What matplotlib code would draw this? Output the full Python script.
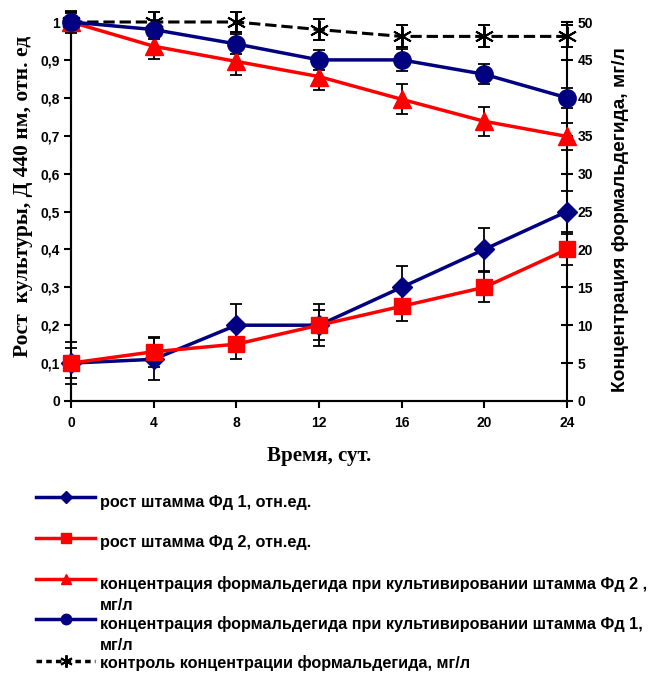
import matplotlib
matplotlib.use("Agg")
import matplotlib.pyplot as plt
from matplotlib.lines import Line2D
from matplotlib.ticker import FuncFormatter

# время, сут.
days = [0, 4, 8, 12, 16, 20, 24]

# рост культур, отн. ед (левая ось)
growth_fd1 = [0.10, 0.11, 0.20, 0.20, 0.30, 0.40, 0.50]
growth_fd1_err = [0.055, 0.055, 0.055, 0.055, 0.057, 0.056, 0.055]
growth_fd2 = [0.10, 0.13, 0.15, 0.20, 0.25, 0.30, 0.40]
growth_fd2_err = [0.04, 0.04, 0.04, 0.04, 0.04, 0.04, 0.04]

# концентрация формальдегида, мг/л (правая ось)
form_fd2 = [50, 46.8, 44.8, 42.8, 39.8, 36.9, 34.9]
form_fd2_err = [1.5, 1.7, 1.8, 1.8, 2.0, 1.9, 1.8]
form_fd1 = [50, 49.0, 47.1, 45.0, 45.0, 43.1, 40.0]
form_fd1_err = [1.2, 1.2, 1.3, 1.3, 1.5, 1.3, 1.3]
form_ctrl = [50, 50, 50, 49.0, 48.1, 48.1, 48.1]
form_ctrl_err = [1.3, 1.3, 1.3, 1.4, 1.45, 1.45, 1.45]

labels = [
    "рост штамма Фд 1, отн.ед.",
    "рост штамма Фд 2, отн.ед.",
    "концентрация формальдегида при культивировании штамма Фд 2 ,\nмг/л",
    "концентрация формальдегида при культивировании штамма Фд 1,\nмг/л",
    "контроль концентрации формальдегида, мг/л",
]

navy = "#000080"
red = "#ff0000"
sans = "Liberation Sans"
serif = "Liberation Serif"

fig = plt.figure(figsize=(6.58, 6.75), dpi=100)
ax = fig.add_axes([71/658, 1-401/675, (567-71)/658, (401-22)/675])
ax2 = ax.twinx()

eb = dict(ecolor="black", elinewidth=1.3, capsize=4, capthick=1.3, zorder=3, clip_on=False)

def draw(y, err, **kw):
    res = ax2.errorbar(days, y, yerr=err, **eb, **kw)
    for art in res.lines[1] + res.lines[2]:
        art.set_clip_on(False)
    res.lines[0].set_clip_on(False)

# правая ось
draw(form_ctrl, form_ctrl_err, color="black", ls="--", lw=2.2,
     marker=(6, 2, 0), ms=14, mew=1.4, mec="black")
draw(form_fd2, form_fd2_err, color=red, lw=2.5, marker="^", ms=13)
draw(form_fd1, form_fd1_err, color=navy, lw=2.5, marker="o", ms=12.5)
draw([g * 50 for g in growth_fd1], [e * 50 for e in growth_fd1_err],
     color=navy, lw=2.5, marker="D", ms=10.5)
draw([g * 50 for g in growth_fd2], [e * 50 for e in growth_fd2_err],
     color=red, lw=2.5, marker="s", ms=12)

ax.set_xlim(0, 24)
ax.set_ylim(0, 1)
ax2.set_ylim(0, 50)
ax.set_xticks(days)
ax.set_yticks([i / 10 for i in range(11)])
ax2.set_yticks(range(0, 51, 5))
ax.yaxis.set_major_formatter(FuncFormatter(lambda v, p: ("%g" % round(v, 1)).replace(".", ",")))

for a in (ax, ax2):
    a.spines["top"].set_visible(False)
    for s in a.spines.values():
        s.set_linewidth(1.5)
ax.spines["right"].set_visible(False)
ax.tick_params(axis="both", direction="out", width=1.5, length=5, labelsize=10, pad=3)
ax2.tick_params(axis="y", direction="inout", width=1.5, length=9, labelsize=10, pad=3)
for lab in ax.get_xticklabels() + ax.get_yticklabels() + ax2.get_yticklabels():
    lab.set_fontfamily(sans)
    lab.set_fontweight("bold")
ax.tick_params(axis="x", pad=6)

ax.set_ylabel("Рост  культуры, Д 440 нм, отн. ед", family=serif, weight="bold",
              fontsize=15.5)
ax.yaxis.set_label_coords(-0.077, 0.54)
ax2.set_ylabel("Концентрация формальдегида, мг/л", family=sans, weight="bold",
               fontsize=13.8)
ax2.yaxis.set_label_coords(1.09, 0.48)
ax.set_xlabel("Время, сут.", family=serif, weight="bold", fontsize=15, labelpad=11)

# легенда
styles = [
    dict(color=navy, marker="D", ms=6.5),
    dict(color=red, marker="s", ms=7),
    dict(color=red, marker="^", ms=7.5),
    dict(color=navy, marker="o", ms=7.5),
    dict(color="black", marker=(6, 2, 0), ms=9, mew=1.4, ls=(0, (1.6, 1.2))),
]
handle_y = [497, 538, 579, 619, 661]
text_y = [[502], [543], [584, 605], [624, 645], [663]]
for st, hy, tys, lab in zip(styles, handle_y, text_y, labels):
    y = 1 - hy / 675
    fig.add_artist(Line2D([36/658, 65.5/658, 95/658], [y, y, y], lw=2.5,
                          transform=fig.transFigure, markevery=[1], **st))
    for ty, line in zip(tys, lab.split("\n")):
        fig.text(100/658, 1 - ty / 675, line, family=sans, weight="bold", fontsize=11.7,
                 va="center", ha="left")

fig.savefig("out.png", dpi=100)
